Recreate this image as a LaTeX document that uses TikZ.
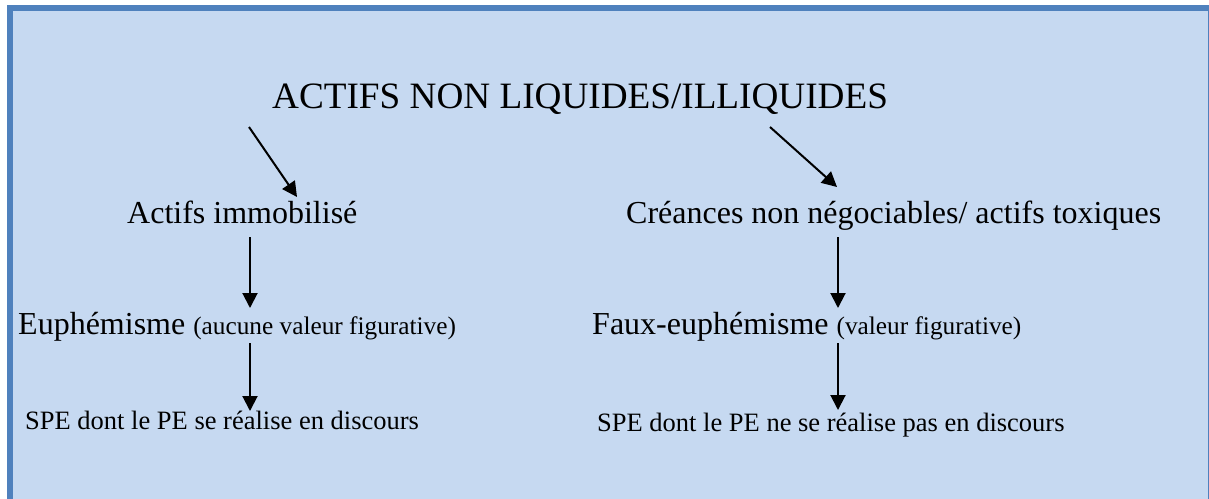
\documentclass[tikz,border=0pt]{standalone}
\usepackage{fontspec}
\setmainfont{Liberation Serif}
\usetikzlibrary{arrows.meta}
\definecolor{boxfill}{HTML}{C6D9F1}
\definecolor{boxline}{HTML}{4F81BD}
\tikzset{
  big/.style={anchor=base west, inner sep=0pt, font=\fontsize{37.2}{40}\selectfont},
  mid/.style={anchor=base west, inner sep=0pt, font=\fontsize{32}{36}\selectfont},
  small/.style={anchor=base west, inner sep=0pt, font=\fontsize{26.5}{30}\selectfont},
  arr/.style={line width=2pt, -{Triangle[length=15pt,width=15pt]}}
}
\newcommand{\paren}[1]{{\fontsize{25.3}{28}\selectfont #1}}
\begin{document}
\begin{tikzpicture}[x=1pt,y=-1pt]
\useasboundingbox (0,0) rectangle (1209,498);
\fill[white] (0,0) rectangle (1209,498);
\begin{scope}
\clip (0,0) rectangle (1209,498);
\draw[boxline, fill=boxfill, line width=6pt] (10,8) rectangle (1211,505);
\end{scope}
\node[big] (title) at (272,108) {ACTIFS NON LIQUIDES/ILLIQUIDES};
\node[mid] (immo) at (127,223) {Actifs immobilisé};
\node[mid] (crea) at (626,223) {Créances non négociables/ actifs toxiques};
\node[mid] (euph) at (18,334) {Euphémisme \paren{(aucune valeur figurative)}};
\node[mid] (faux) at (592,334) {Faux-euphémisme \paren{(valeur figurative)}};
\node[small] (spe1) at (25,429) {SPE dont le PE se réalise en discours};
\node[small] (spe2) at (597,431) {SPE dont le PE ne se réalise pas en discours};
\coordinate (a1s) at (249,127); \coordinate (a1e) at (297,197);
\coordinate (a2s) at (770,127); \coordinate (a2e) at (837,187);
\coordinate (a3s) at (250,237); \coordinate (a3e) at (250,308);
\coordinate (a4s) at (250,343); \coordinate (a4e) at (250,411);
\coordinate (a5s) at (838,237); \coordinate (a5e) at (838,308);
\coordinate (a6s) at (838,343); \coordinate (a6e) at (838,410);
\draw[arr] (a1s) -- (a1e);
\draw[arr] (a2s) -- (a2e);
\draw[arr] (a3s) -- (a3e);
\draw[arr] (a4s) -- (a4e);
\draw[arr] (a5s) -- (a5e);
\draw[arr] (a6s) -- (a6e);
\end{tikzpicture}
\end{document}
